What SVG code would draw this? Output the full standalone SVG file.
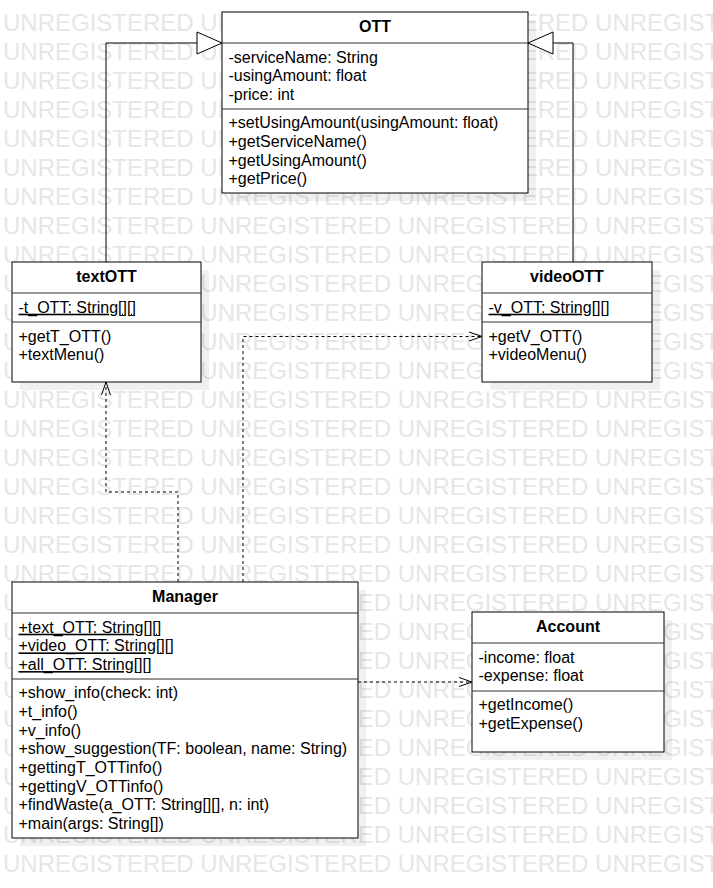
<svg xmlns="http://www.w3.org/2000/svg" width="713" height="888" viewBox="0 0 713 888">
<style>
.wm{font-family:"Liberation Sans",Arial,sans-serif;font-size:24px;fill:#e6e6e6}
.box{fill:#fff;stroke:#000;stroke-width:1}
.sh{fill:#000;fill-opacity:0.06}
.div{stroke:#333;stroke-width:1}
.t{font-family:"Liberation Sans",Arial,sans-serif;font-size:16px;fill:#000}
.title{font-family:"Liberation Sans",Arial,sans-serif;font-size:16px;font-weight:bold;fill:#000;text-anchor:middle}
.u{text-decoration:underline}
.line{fill:none;stroke:#000;stroke-width:1}
.dash{fill:none;stroke:#000;stroke-width:1;stroke-dasharray:3 3}
.tri{fill:#fff;stroke:#000;stroke-width:1}
</style>
<rect width="713" height="888" fill="#fff"/>
<g id="watermark">
<text class="wm" x="3" y="31">UNREGISTERED UNREGISTERED UNREGISTERED UNREGIST</text>
<text class="wm" x="3" y="60">UNREGISTERED UNREGISTERED UNREGISTERED UNREGIST</text>
<text class="wm" x="3" y="89">UNREGISTERED UNREGISTERED UNREGISTERED UNREGIST</text>
<text class="wm" x="3" y="118">UNREGISTERED UNREGISTERED UNREGISTERED UNREGIST</text>
<text class="wm" x="3" y="147">UNREGISTERED UNREGISTERED UNREGISTERED UNREGIST</text>
<text class="wm" x="3" y="176">UNREGISTERED UNREGISTERED UNREGISTERED UNREGIST</text>
<text class="wm" x="3" y="205">UNREGISTERED UNREGISTERED UNREGISTERED UNREGIST</text>
<text class="wm" x="3" y="234">UNREGISTERED UNREGISTERED UNREGISTERED UNREGIST</text>
<text class="wm" x="3" y="263">UNREGISTERED UNREGISTERED UNREGISTERED UNREGIST</text>
<text class="wm" x="3" y="292">UNREGISTERED UNREGISTERED UNREGISTERED UNREGIST</text>
<text class="wm" x="3" y="321">UNREGISTERED UNREGISTERED UNREGISTERED UNREGIST</text>
<text class="wm" x="3" y="350">UNREGISTERED UNREGISTERED UNREGISTERED UNREGIST</text>
<text class="wm" x="3" y="379">UNREGISTERED UNREGISTERED UNREGISTERED UNREGIST</text>
<text class="wm" x="3" y="408">UNREGISTERED UNREGISTERED UNREGISTERED UNREGIST</text>
<text class="wm" x="3" y="437">UNREGISTERED UNREGISTERED UNREGISTERED UNREGIST</text>
<text class="wm" x="3" y="466">UNREGISTERED UNREGISTERED UNREGISTERED UNREGIST</text>
<text class="wm" x="3" y="495">UNREGISTERED UNREGISTERED UNREGISTERED UNREGIST</text>
<text class="wm" x="3" y="524">UNREGISTERED UNREGISTERED UNREGISTERED UNREGIST</text>
<text class="wm" x="3" y="553">UNREGISTERED UNREGISTERED UNREGISTERED UNREGIST</text>
<text class="wm" x="3" y="582">UNREGISTERED UNREGISTERED UNREGISTERED UNREGIST</text>
<text class="wm" x="3" y="611">UNREGISTERED UNREGISTERED UNREGISTERED UNREGIST</text>
<text class="wm" x="3" y="640">UNREGISTERED UNREGISTERED UNREGISTERED UNREGIST</text>
<text class="wm" x="3" y="669">UNREGISTERED UNREGISTERED UNREGISTERED UNREGIST</text>
<text class="wm" x="3" y="698">UNREGISTERED UNREGISTERED UNREGISTERED UNREGIST</text>
<text class="wm" x="3" y="727">UNREGISTERED UNREGISTERED UNREGISTERED UNREGIST</text>
<text class="wm" x="3" y="756">UNREGISTERED UNREGISTERED UNREGISTERED UNREGIST</text>
<text class="wm" x="3" y="785">UNREGISTERED UNREGISTERED UNREGISTERED UNREGIST</text>
<text class="wm" x="3" y="814">UNREGISTERED UNREGISTERED UNREGISTERED UNREGIST</text>
<text class="wm" x="3" y="843">UNREGISTERED UNREGISTERED UNREGISTERED UNREGIST</text>
<text class="wm" x="3" y="872">UNREGISTERED UNREGISTERED UNREGISTERED UNREGIST</text>
</g>
<g id="connectors">
<path class="line" d="M106,262 V43 H197"/>
<path class="tri" d="M197,32 L222,43 L197,54 Z"/>
<path class="line" d="M573,262 V43 H553"/>
<path class="tri" d="M553,32 L528,43 L553,54 Z"/>
<path class="dash" d="M178,582 V492 H106 V383"/>
<path class="line" d="M101.5,395 L106,382 L110.5,395"/>
<path class="dash" d="M243,582 V336.5 H481"/>
<path class="line" d="M469,332 L482,336.5 L469,341"/>
<path class="dash" d="M358,682 H471"/>
<path class="line" d="M459,677.5 L472,682 L459,686.5"/>
</g>
<g id="OTT">
<rect class="sh" x="230" y="20" width="306" height="181"/>
<rect class="box" x="222" y="12" width="306" height="181"/>
<line class="div" x1="222" y1="43" x2="528" y2="43"/>
<line class="div" x1="222" y1="109" x2="528" y2="109"/>
<text class="title" x="375" y="32">OTT</text>
<text class="t" x="228.5" y="62.7">-serviceName: String</text>
<text class="t" x="228.5" y="81.4">-usingAmount: float</text>
<text class="t" x="228.5" y="100">-price: int</text>
<text class="t" x="228.5" y="128.3">+setUsingAmount(usingAmount: float)</text>
<text class="t" x="228.5" y="147">+getServiceName()</text>
<text class="t" x="228.5" y="165.7">+getUsingAmount()</text>
<text class="t" x="228.5" y="184.3">+getPrice()</text>
</g>
<g id="textOTT">
<rect class="sh" x="20" y="270" width="189" height="120"/>
<rect class="box" x="12" y="262" width="189" height="120"/>
<line class="div" x1="12" y1="293" x2="201" y2="293"/>
<line class="div" x1="12" y1="322" x2="201" y2="322"/>
<text class="title" x="106.5" y="282">textOTT</text>
<text class="t u" x="18.5" y="312.7">-t_OTT: String[][]</text>
<text class="t" x="18.5" y="341.5">+getT_OTT()</text>
<text class="t" x="18.5" y="360.2">+textMenu()</text>
</g>
<g id="videoOTT">
<rect class="sh" x="490" y="270" width="170" height="120"/>
<rect class="box" x="482" y="262" width="170" height="120"/>
<line class="div" x1="482" y1="293" x2="652" y2="293"/>
<line class="div" x1="482" y1="322" x2="652" y2="322"/>
<text class="title" x="567" y="282">videoOTT</text>
<text class="t u" x="488.5" y="312.7">-v_OTT: String[][]</text>
<text class="t" x="488.5" y="341.5">+getV_OTT()</text>
<text class="t" x="488.5" y="360.2">+videoMenu()</text>
</g>
<g id="Manager">
<rect class="sh" x="20" y="590" width="346" height="256"/>
<rect class="box" x="12" y="582" width="346" height="256"/>
<line class="div" x1="12" y1="613" x2="358" y2="613"/>
<line class="div" x1="12" y1="679" x2="358" y2="679"/>
<text class="title" x="185" y="602">Manager</text>
<text class="t u" x="18.5" y="632.7">+text_OTT: String[][]</text>
<text class="t u" x="18.5" y="651.4">+video_OTT: String[][]</text>
<text class="t u" x="18.5" y="670">+all_OTT: String[][]</text>
<text class="t" x="18.5" y="698.3">+show_info(check: int)</text>
<text class="t" x="18.5" y="717">+t_info()</text>
<text class="t" x="18.5" y="735.7">+v_info()</text>
<text class="t" x="18.5" y="754.3">+show_suggestion(TF: boolean, name: String)</text>
<text class="t" x="18.5" y="773">+gettingT_OTTinfo()</text>
<text class="t" x="18.5" y="791.7">+gettingV_OTTinfo()</text>
<text class="t" x="18.5" y="810.3">+findWaste(a_OTT: String[][], n: int)</text>
<text class="t" x="18.5" y="829">+main(args: String[])</text>
</g>
<g id="Account">
<rect class="sh" x="480" y="620" width="192" height="140"/>
<rect class="box" x="472" y="612" width="192" height="140"/>
<line class="div" x1="472" y1="643" x2="664" y2="643"/>
<line class="div" x1="472" y1="691" x2="664" y2="691"/>
<text class="title" x="568" y="632">Account</text>
<text class="t" x="478.5" y="662.7">-income: float</text>
<text class="t" x="478.5" y="681.4">-expense: float</text>
<text class="t" x="478.5" y="709.8">+getIncome()</text>
<text class="t" x="478.5" y="728.5">+getExpense()</text>
</g>
</svg>
